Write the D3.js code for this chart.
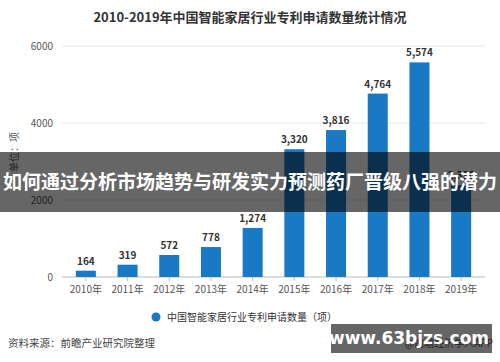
<!DOCTYPE html>
<html><head><meta charset="utf-8">
<script src="https://cdn.jsdelivr.net/npm/d3@7/dist/d3.min.js"></script>
<style>body{margin:0;background:#fff;}svg{display:block;font-family:"Noto Sans CJK SC","Noto Sans",sans-serif;}</style>
</head><body>
<script>
const categories = ["2010年","2011年","2012年","2013年","2014年","2015年","2016年","2017年","2018年","2019年"];
const values = [164,319,572,778,1274,3320,3816,4764,5574,2390];
const yTicks = [0,2000,4000,6000];
const title = "2010-2019年中国智能家居行业专利申请数量统计情况";
const seriesName = "中国智能家居行业专利申请数量（项）";
const yTitle = "单位：项";
const source = "资料来源：前瞻产业研究院整理";
const credit = "@前瞻经济学人APP";
const bannerText = "如何通过分析市场趋势与研发实力预测药厂晋级八强的潜力";
const siteText = "www.63bjzs.com";

const W=500,H=362;
const svg=d3.select("body").append("svg").attr("width",W).attr("height",H);
const x=d3.scaleBand().domain(categories).range([65,482]).paddingInner(0.52).paddingOuter(0.26);
const y=d3.scaleLinear().domain([0,6000]).range([277,46]);
const fmt=d3.format(",");

svg.append("text").attr("x",250).attr("y",22).attr("text-anchor","middle")
  .attr("font-size",13).attr("font-weight","bold").attr("fill","#333").text(title);

// gridlines
svg.append("g").selectAll("line").data(yTicks).join("line")
  .attr("x1",62).attr("x2",485).attr("y1",d=>y(d)).attr("y2",d=>y(d))
  .attr("stroke",d=>d===0?"#bbb":"#e6e6e6").attr("stroke-width",1);
svg.append("g").selectAll("text").data(yTicks).join("text")
  .attr("x",53).attr("y",d=>y(d)).attr("dy","0.35em").attr("text-anchor","end")
  .attr("font-size",10).attr("fill","#555").text(d=>d);

svg.append("text").attr("transform","translate(18,152) rotate(-90)").attr("text-anchor","middle")
  .attr("font-size",10).attr("fill","#555").text(yTitle);

// x axis
const xa=svg.append("g").attr("transform","translate(0,277)")
  .call(d3.axisBottom(x).tickSize(4).tickPadding(5));
xa.select(".domain").remove();
xa.selectAll("line").attr("stroke","#bbb");
xa.selectAll("text").attr("font-size",10).attr("fill","#555").attr("font-family","'Noto Sans CJK SC',sans-serif");

// bars
svg.append("g").selectAll("rect").data(values).join("rect")
  .attr("x",(d,i)=>x(categories[i])).attr("width",x.bandwidth())
  .attr("y",d=>y(d)).attr("height",d=>y(0)-y(d)).attr("fill","#1a79c4");
svg.append("g").selectAll("text").data(values).join("text")
  .attr("x",(d,i)=>x(categories[i])+x.bandwidth()/2).attr("y",d=>y(d)-6)
  .attr("text-anchor","middle").attr("font-size",10).attr("font-weight","bold")
  .attr("fill","#333").text(d=>fmt(d));

// legend
svg.append("circle").attr("cx",156).attr("cy",317).attr("r",4.5).attr("fill","#1a79c4");
svg.append("text").attr("x",167).attr("y",317).attr("dy","0.35em").attr("font-size",10)
  .attr("fill","#333").text(seriesName);

svg.append("text").attr("x",8).attr("y",347).attr("font-size",10.5).attr("fill","#444").text(source);
svg.append("text").attr("x",493).attr("y",347).attr("text-anchor","end").attr("font-size",10).attr("fill","#555").text(credit);

// banner overlay
svg.append("rect").attr("x",0).attr("y",152).attr("width",W).attr("height",60).attr("fill","rgba(0,0,0,0.6)");
svg.append("text").attr("x",250).attr("y",182).attr("dy","0.35em").attr("text-anchor","middle")
  .attr("font-size",19).attr("font-weight","bold").attr("fill","#fff").text(bannerText);

// site box
svg.append("rect").attr("x",331).attr("y",324).attr("width",161).attr("height",29).attr("fill","rgba(0,0,0,0.6)");
svg.append("text").attr("x",409).attr("y",338).attr("dy","0.35em").attr("text-anchor","middle")
  .attr("font-size",17).attr("font-weight","bold").attr("fill","#fff")
  .attr("font-family","'DejaVu Sans','Noto Sans',sans-serif").text(siteText);
</script>
</body></html>
